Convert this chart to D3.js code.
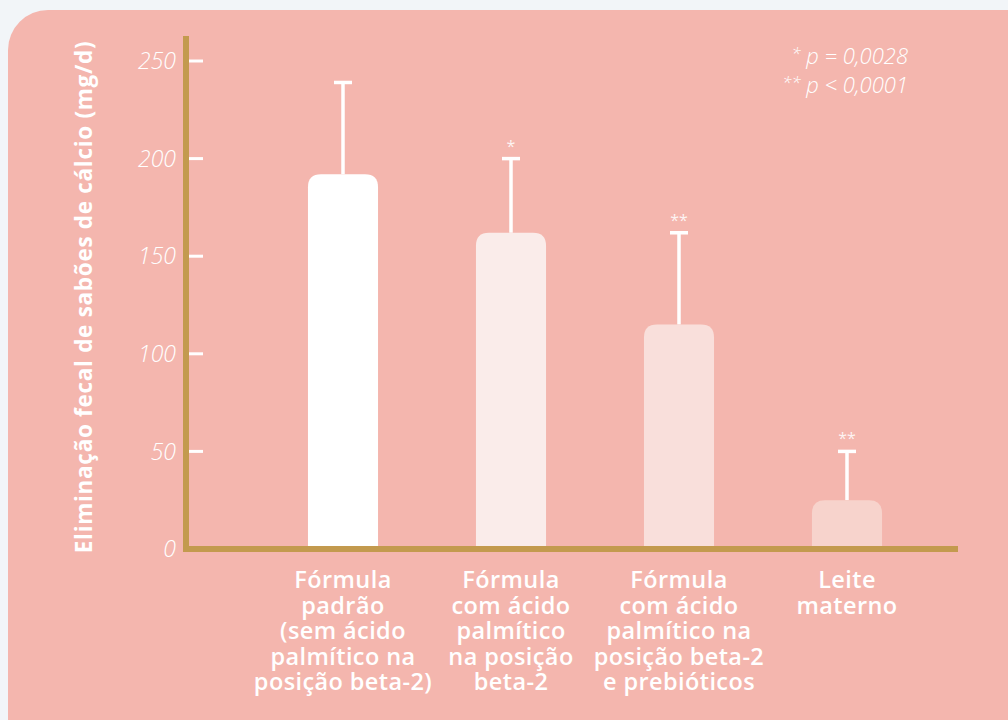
<!DOCTYPE html>
<html>
<head>
<meta charset="utf-8">
<script src="https://cdn.jsdelivr.net/npm/d3@7"></script>
<style>
  html, body { margin: 0; padding: 0; background: #f2f5f8; }
  svg { display: block; }
</style>
</head>
<body>
<svg id="chart" width="1008" height="720"></svg>
<script>
// Fecal elimination of calcium soaps (mg/d) by feeding group
const categories = [
  ["Fórmula", "padrão", "(sem ácido", "palmítico na", "posição beta-2)"],
  ["Fórmula", "com ácido", "palmítico", "na posição", "beta-2"],
  ["Fórmula", "com ácido", "palmítico na", "posição beta-2", "e prebióticos"],
  ["Leite", "materno"]
];
const means = [192, 162, 115, 25];
const upperErrors = [239, 200, 162, 50];
const significance = ["", "*", "**", "**"];
const barColors = ["#ffffff", "#faecea", "#f9dfdb", "#f7d3cc"];
const yTicks = [0, 50, 100, 150, 200, 250];
const legendLines = [["*", "p = 0,0028"], ["**", "p < 0,0001"]];
const yTitle = "Eliminação fecal de sabões de cálcio (mg/d)";

const svg = d3.select("#chart");
const font = "'Open Sans', 'Noto Sans', sans-serif";
const gold = "#c39a4e";

// Panel
svg.append("rect")
  .attr("x", 8).attr("y", 10)
  .attr("width", 1040).attr("height", 760)
  .attr("rx", 40).attr("ry", 40)
  .attr("fill", "#f4b6ae");

const ids = categories.map((d, i) => "c" + i);
const x = d3.scaleBand().domain(ids).range([259, 931])
  .paddingInner(0.583).paddingOuter(0.2915);
const y = d3.scaleLinear().domain([0, 250]).range([549, 61]);

// Bars with rounded top corners
function topRounded(x0, y0, w, h, r) {
  r = Math.min(r, h, w / 2);
  return `M${x0},${y0 + h}V${y0 + r}Q${x0},${y0} ${x0 + r},${y0}` +
    `H${x0 + w - r}Q${x0 + w},${y0} ${x0 + w},${y0 + r}V${y0 + h}Z`;
}

const g = svg.append("g");

// Error bars (upper only)
ids.forEach((id, i) => {
  const cx = x(id) + x.bandwidth() / 2;
  g.append("line")
    .attr("x1", cx).attr("x2", cx)
    .attr("y1", y(means[i])).attr("y2", y(upperErrors[i]))
    .attr("stroke", "#fff").attr("stroke-width", 3.5);
  g.append("line")
    .attr("x1", cx - 9).attr("x2", cx + 9)
    .attr("y1", y(upperErrors[i])).attr("y2", y(upperErrors[i]))
    .attr("stroke", "#fff").attr("stroke-width", 3.5);
  if (significance[i]) {
    g.append("text")
      .attr("x", cx).attr("y", y(upperErrors[i]) - 7)
      .attr("text-anchor", "middle")
      .attr("font-family", font).attr("font-size", 16)
      .attr("fill", "rgba(255,255,255,0.85)")
      .text(significance[i]);
  }
});

g.selectAll("path.bar")
  .data(ids)
  .join("path")
  .attr("class", "bar")
  .attr("d", (id, i) => topRounded(x(id), y(means[i]), x.bandwidth(), y(0) - 3 - y(means[i]), 13))
  .attr("fill", (id, i) => barColors[i]);

// Y axis
const yAxis = svg.append("g");
yAxis.selectAll("line.tick")
  .data(yTicks)
  .join("line")
  .attr("x1", 189).attr("x2", 203)
  .attr("y1", d => y(d)).attr("y2", d => y(d))
  .attr("stroke", "#fff").attr("stroke-width", 3);
yAxis.selectAll("text")
  .data(yTicks)
  .join("text")
  .attr("x", 176).attr("y", d => y(d))
  .attr("dy", "0.36em")
  .attr("text-anchor", "end")
  .attr("font-family", font).attr("font-size", 23)
  .attr("font-style", "italic").attr("font-weight", 300)
  .attr("fill", "#fff")
  .text(d => d);

// Axis lines
svg.append("line")
  .attr("x1", 186).attr("x2", 186).attr("y1", 36).attr("y2", 552)
  .attr("stroke", gold).attr("stroke-width", 6);
svg.append("line")
  .attr("x1", 183).attr("x2", 958).attr("y1", y(0)).attr("y2", y(0))
  .attr("stroke", gold).attr("stroke-width", 6);

// Y title
svg.append("text")
  .attr("transform", "translate(92,297) rotate(-90)")
  .attr("text-anchor", "middle")
  .attr("font-family", font).attr("font-size", 22.5).attr("font-weight", 700)
  .attr("letter-spacing", 0.7)
  .attr("fill", "#fff")
  .text(yTitle);

// Category labels
ids.forEach((id, i) => {
  const t = svg.append("text")
    .attr("text-anchor", "middle")
    .attr("font-family", font).attr("font-size", 23.5).attr("font-weight", 600)
    .attr("letter-spacing", 0.4)
    .attr("fill", "#fff");
  categories[i].forEach((line, k) => {
    t.append("tspan")
      .attr("x", x(id) + x.bandwidth() / 2)
      .attr("y", 588 + k * 25.5)
      .text(line);
  });
});

// Significance legend
const legend = svg.append("g");
legendLines.forEach((l, k) => {
  const t = legend.append("text")
    .attr("x", 908).attr("y", 64 + k * 29)
    .attr("text-anchor", "end")
    .attr("font-family", font).attr("font-size", 22)
    .attr("font-style", "italic").attr("font-weight", 300)
    .attr("fill", "#fff");
  t.append("tspan").attr("font-size", 17).attr("dy", -4).text(l[0]);
  t.append("tspan").attr("dy", 4).text(" " + l[1]);
});
</script>
</body>
</html>
